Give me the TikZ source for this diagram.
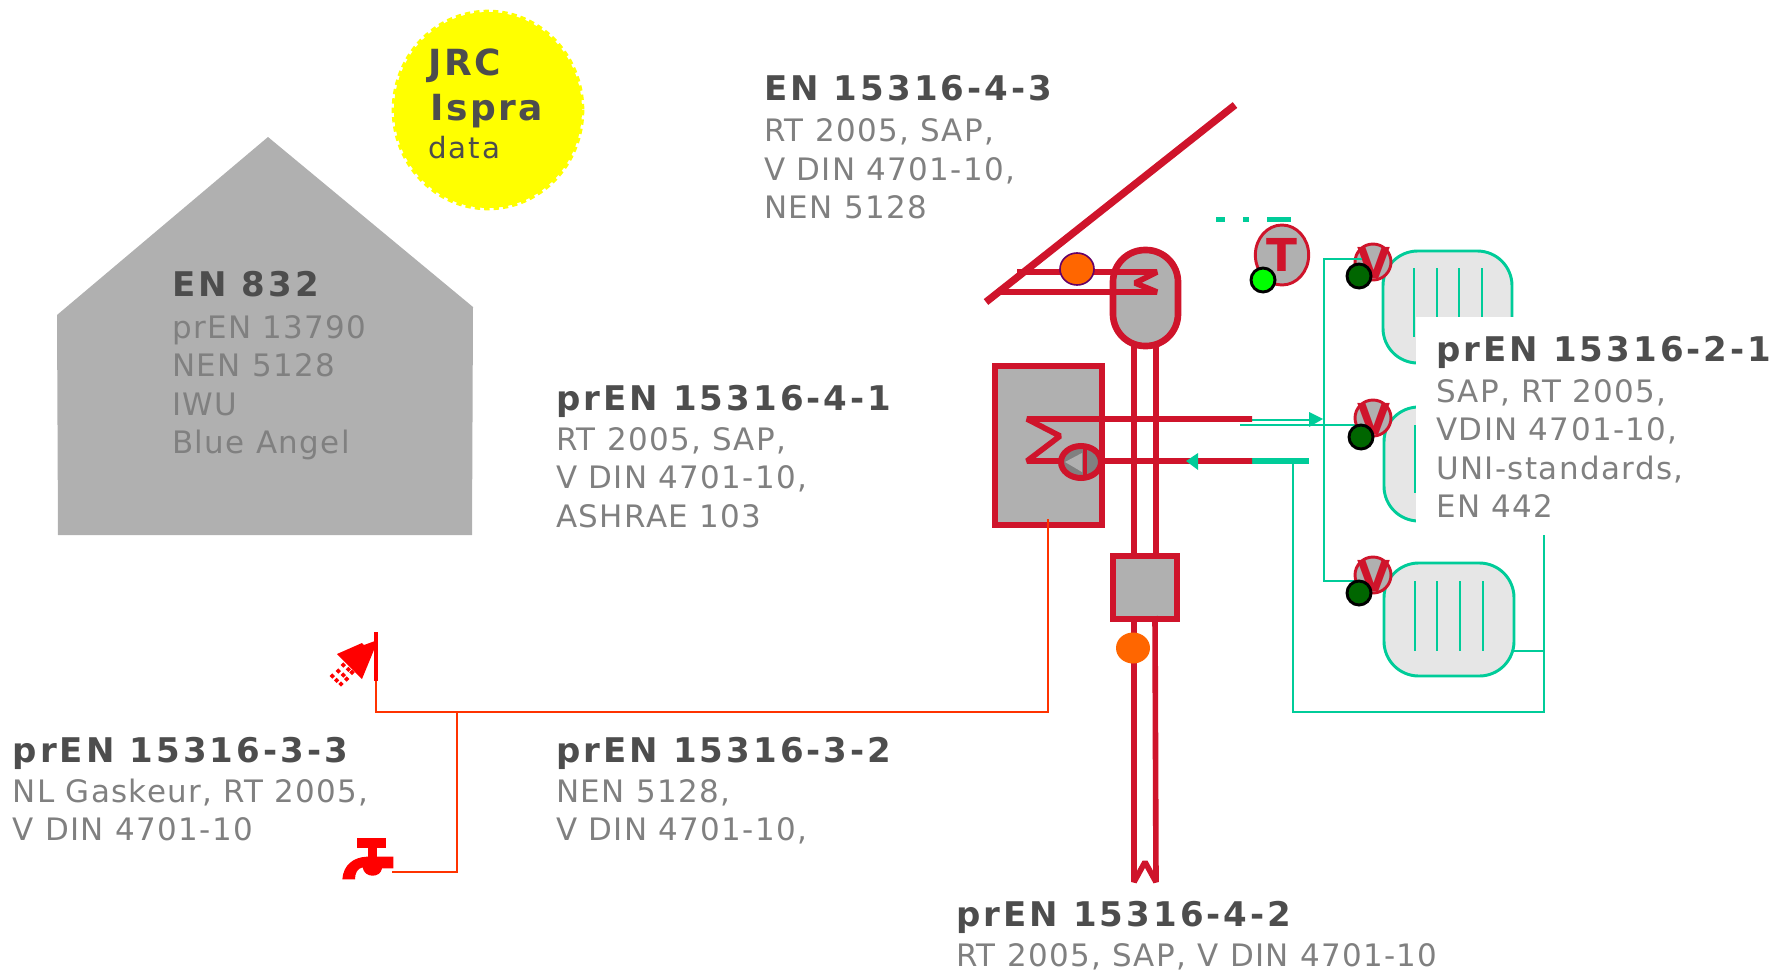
\documentclass[tikz,border=0pt]{standalone}
\usepackage{fontspec}
\setmainfont{DejaVu Sans}
\newfontfamily\ttlf[LetterSpace=9]{DejaVu Sans}
\newfontfamily\bodf[LetterSpace=4.5]{DejaVu Sans}
\newfontfamily\sealf[LetterSpace=7]{DejaVu Sans}
\usetikzlibrary{shapes.geometric}
\definecolor{rd}{HTML}{CF142B}
\definecolor{gr}{HTML}{00CC99}
\definecolor{gy}{HTML}{B0B0B0}
\definecolor{lg}{HTML}{E6E6E6}
\definecolor{tc}{HTML}{4D4D4D}
\definecolor{bc}{HTML}{808080}
\definecolor{og}{HTML}{FF6600}
\definecolor{rl}{HTML}{FF3300}
\definecolor{dg}{HTML}{006600}
\definecolor{yl}{HTML}{FFFF00}
\definecolor{rr}{HTML}{FF0000}
\definecolor{lgn}{HTML}{00FF00}
\tikzset{
 ttl/.style={anchor=base west,inner sep=0pt,text=tc,font=\ttlf\bfseries\fontsize{25.5pt}{28pt}\selectfont},
 bod/.style={anchor=base west,inner sep=0pt,text=bc,font=\bodf\fontsize{23.2pt}{28pt}\selectfont},
 pipe/.style={draw=rd,line width=4.8pt},
 thin pipe/.style={draw=rd,line width=4.2pt,line join=bevel},
 grn/.style={draw=gr,line width=2.2pt},
 hot/.style={draw=rl,line width=2.2pt},
 rad/.style={draw=gr,fill=lg,line width=2.2pt,rounded corners=26pt},
 fin/.style={draw=gr,line width=2.2pt},
 vcirc/.style={circle,draw=rd,fill=gy,line width=2.2pt,minimum size=27pt,inner sep=0pt},
 vtxt/.style={inner sep=0pt,text=rd,font=\bfseries\fontsize{32pt}{32pt}\selectfont},
 dgc/.style={circle,draw=black,fill=dg,line width=2.2pt,minimum size=18pt,inner sep=0pt},
}
\begin{document}
\begin{tikzpicture}[x=0.75pt,y=-0.75pt]
\useasboundingbox (0,0) rectangle (1786,971);
% house
\fill[gy] (268,137) -- (473,307) -- (472,535) -- (58,535) -- (57,315) -- cycle;
% yellow seal
\path[fill=yl,draw=yl,line width=3.5pt,dash pattern=on 4pt off 3pt] (488,110) ellipse [x radius=94,y radius=98];
\node[anchor=base west,inner sep=0pt,text=tc,font=\sealf\bfseries\fontsize{27pt}{28pt}\selectfont] (jrc) at (428,75) {JRC};
\node[anchor=base west,inner sep=0pt,text=tc,font=\sealf\bfseries\fontsize{27pt}{28pt}\selectfont] (ispra) at (430,120) {Ispra};
\node[anchor=base west,inner sep=0pt,text=tc,font=\sealf\fontsize{22pt}{28pt}\selectfont] (data) at (428,158) {data};
% collector
\draw[pipe,line width=5.5pt] (986,302) -- (1235,105);
% tank
\draw[rd,fill=gy,line width=5pt,rounded corners=24pt] (1113,250) rectangle (1178,346);
\draw[thin pipe] (1017,272) -- (1157,272) -- (1135,283) -- (1157,292) -- (1000,292);
\draw[fill=og,draw=violet!80!black,line width=1.2pt] (1077,269) ellipse [x radius=17,y radius=16];
% vertical pipes (upper)
\draw[pipe] (1134,346) -- (1134,553);
\draw[pipe] (1156,346) -- (1156,553);
% boiler
\draw[rd,fill=gy,line width=5pt] (995,366) rectangle (1102,525);
% lower box
\draw[rd,fill=gy,line width=5pt] (1113,556) rectangle (1177,619);
% lower pipes
\draw[thin pipe] (1134,619) -- (1134,882) -- (1145,862) -- (1156,882) -- (1155,616);
\fill[og] (1133,648) ellipse [x radius=17,y radius=15.5];
% green circuit
\draw[grn] (1252,420) -- (1320,420);
\draw[grn] (1240,425) -- (1355,425);
\fill[gr] (1323,419) -- (1309,412) -- (1309,427) -- cycle;
\draw[gr,line width=4.2pt] (1252,461) -- (1309,461);
\draw[grn] (1293,461) -- (1293,712) -- (1544,712) -- (1544,530);
\draw[grn] (1514,651) -- (1544,651);
\draw[grn] (1360,259) -- (1324,259) -- (1324,581) -- (1355,581);
% boiler coil and pump
\draw[thin pipe] (1252,419) -- (1027,419) -- (1060,436) -- (1027,461) -- (1252,461);
\fill[gr] (1186,461) -- (1198,453) -- (1198,470) -- cycle;
\draw[rd,fill=bc,line width=4.5pt] (1081,462) ellipse [x radius=20,y radius=16];
\fill[gy] (1065,462) -- (1082,453) -- (1082,472) -- cycle;
\draw[rd,line width=3pt] (1085,447) -- (1085,478);
% radiators
\draw[rad] (1383,251) rectangle (1512,363);
\draw[rad] (1384,407) rectangle (1513,521);
\draw[rad] (1384,563) rectangle (1514,676);
\foreach \x in {1414,1437,1459,1482} \draw[fin] (\x,268) -- (\x,337);
\foreach \x in {1415,1437,1460,1483} \draw[fin] (\x,425) -- (\x,493);
\foreach \x in {1415,1437,1460,1483} \draw[fin] (\x,581) -- (\x,651);
% valves
\node[vcirc] (v1) at (1373,262) {};
\node[vcirc] (v2) at (1373,418) {};
\node[vcirc] (v3) at (1373,575) {};
\node[vtxt] (vt1) at (1374,263) {V};
\node[vtxt] (vt2) at (1374,419) {V};
\node[vtxt] (vt3) at (1374,576) {V};
\draw[grn] (1340,259) -- (1362,259);
\node[dgc] (d1) at (1359,276) {};
\node[dgc] (d2) at (1361,437) {};
\node[dgc] (d3) at (1359,593) {};
% thermostat
\node[ellipse,draw=rd,fill=gy,line width=2.2pt,minimum width=40pt,minimum height=45pt,inner sep=0pt,text=rd,font=\bfseries\fontsize{34pt}{34pt}\selectfont] (tt) at (1282,255) {T};
\node[circle,draw=black,fill=lgn,line width=2.2pt,minimum size=18pt,inner sep=0pt] (lgc) at (1263,280) {};
\fill[gr] (1216,216.5) rectangle (1225,221.5);
\fill[gr] (1243,216.5) rectangle (1249,221.5);
\fill[gr] (1267,216.5) rectangle (1291,221.5);
% hot water
\draw[hot] (1048,519) -- (1048,712) -- (376,712) -- (376,650);
\draw[hot] (457,712) -- (457,872) -- (392,872);
\draw[rr,line width=3.2pt] (376,632) -- (376,681);
\fill[rr] (337,654) -- (362,643) -- (364,645) -- (375,641) -- (376,645) -- (362,679) -- cycle;
\begin{scope}[shift={(310,610)},x=0.25pt,y=-0.25pt]
\foreach \a/\b in {100/165,115/178,126/187,85/183,100/195,110/207,67/198,80/211,93/222}
  \fill[rr] (\a-8,\b) -- (\a,\b-8) -- (\a+8,\b) -- (\a,\b+8) -- cycle;
\fill[rr] (142,685) rectangle (228,715);
\fill[rr] (175,715) rectangle (200,745);
\fill[rr] (97,808) .. controls (100,765) and (130,742) .. (170,740) -- (250,740) -- (250,775) -- (216,775) .. controls (212,805) and (162,805) .. (158,772) .. controls (142,775) and (135,790) .. (135,808) -- cycle;
\end{scope}
% white label background
\fill[white] (1416,317) rectangle (1786,535);
% labels
\node[ttl] (a0) at (172,296) {EN 832};
\node[bod] (a1) at (172,338) {prEN 13790};
\node[bod] (a2) at (172,376) {NEN 5128};
\node[bod] (a3) at (172,415) {IWU};
\node[bod] (a4) at (172,453) {Blue Angel};
\node[ttl] (b0) at (764,100) {EN 15316-4-3};
\node[bod] (b1) at (764,141) {RT 2005, SAP,};
\node[bod] (b2) at (764,180) {V DIN 4701-10,};
\node[bod] (b3) at (764,218) {NEN 5128};
\node[ttl] (c0) at (556,410) {prEN 15316-4-1};
\node[bod] (c1) at (556,450) {RT 2005, SAP,};
\node[bod] (c2) at (556,488) {V DIN 4701-10,};
\node[bod] (c3) at (556,527) {ASHRAE 103};
\node[ttl] (d0) at (1436,361) {prEN 15316-2-1};
\node[bod] (e1) at (1436,402) {SAP, RT 2005,};
\node[bod] (e2) at (1436,440) {VDIN 4701-10,};
\node[bod] (e3) at (1436,479) {UNI-standards,};
\node[bod] (e4) at (1436,517) {EN 442};
\node[ttl] (f0) at (12.5,762) {prEN 15316-3-3};
\node[bod] (f1) at (12.5,802) {NL Gaskeur, RT 2005,};
\node[bod] (f2) at (12.5,840) {V DIN 4701-10};
\node[ttl] (g0) at (556,762) {prEN 15316-3-2};
\node[bod] (g1) at (556,802) {NEN 5128,};
\node[bod] (g2) at (556,840) {V DIN 4701-10,};
\node[ttl] (h0) at (956,926) {prEN 15316-4-2};
\node[bod] (h1) at (956,966) {RT 2005, SAP, V DIN 4701-10};
\end{tikzpicture}
\end{document}
